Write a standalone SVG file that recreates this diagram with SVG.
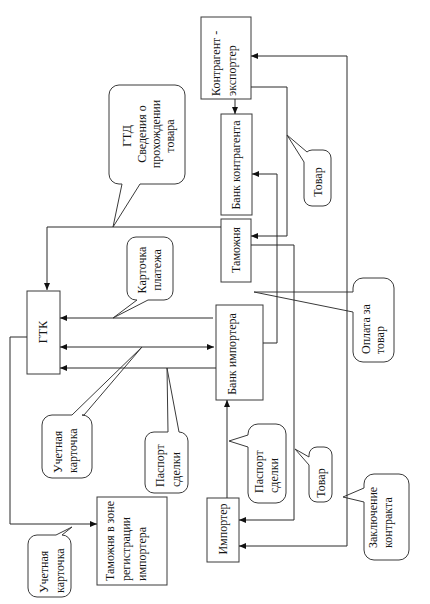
<svg xmlns="http://www.w3.org/2000/svg" width="430" height="604" viewBox="0 0 430 604">
<style>
.box{fill:#fff;stroke:#3a3a3a;stroke-width:1}
.bub{fill:#fff;stroke:#3a3a3a;stroke-width:1;stroke-linejoin:round}
.ln{fill:none;stroke:#2a2a2a;stroke-width:1}
.t{font-family:"Liberation Serif","Times New Roman",serif;font-size:12px;fill:#151515;dominant-baseline:central}
</style>
<defs>
<marker id="ah" markerUnits="userSpaceOnUse" markerWidth="8" markerHeight="6" refX="7" refY="3" orient="auto-start-reverse">
<path d="M0,0 L7,3 L0,6 Z" fill="#111"/>
</marker>
</defs>
<rect width="430" height="604" fill="#fff"/>

<g id="nodes">
<g id="exporter">
<rect class="box" x="201" y="17" width="50" height="82"/>
<text class="t" transform="translate(216,96) rotate(-90)">Контрагент -</text>
<text class="t" transform="translate(232,96) rotate(-90)">экспортер</text>
</g>
<g id="bank-contragent">
<rect class="box" x="221" y="114" width="31" height="101"/>
<text class="t" text-anchor="middle" transform="translate(236,165) rotate(-90)">Банк контрагента</text>
</g>
<g id="customs">
<rect class="box" x="221" y="219" width="30" height="63"/>
<text class="t" text-anchor="middle" transform="translate(236,250) rotate(-90)">Таможня</text>
</g>
<g id="bank-importer">
<rect class="box" x="216" y="305" width="47" height="95"/>
<text class="t" text-anchor="middle" transform="translate(232,354) rotate(-90)">Банк импортера</text>
</g>
<g id="importer">
<rect class="box" x="207" y="498" width="32" height="64"/>
<text class="t" text-anchor="middle" transform="translate(223,529) rotate(-90)">Импортер</text>
</g>
<g id="gtk">
<rect class="box" x="27" y="291" width="33" height="83"/>
<text class="t" text-anchor="middle" transform="translate(43,332) rotate(-90)">ГТК</text>
</g>
<g id="customs-reg">
<rect class="box" x="97" y="497" width="70" height="88"/>
<text class="t" transform="translate(110,581) rotate(-90)">Таможня в зоне</text>
<text class="t" transform="translate(126,581) rotate(-90)">регистрации</text>
<text class="t" transform="translate(142,581) rotate(-90)">импортера</text>
</g>

<g id="callout-gtd">
<path class="bub" d="M119,85 H175 A10,10 0 0 1 185,95 V174 A10,10 0 0 1 175,184 H140 L113,227 L122,184 H119 A10,10 0 0 1 109,174 V95 A10,10 0 0 1 119,85 Z"/>
<text class="t" text-anchor="middle" transform="translate(127,136) rotate(-90)">ГТД</text>
<text class="t" text-anchor="middle" transform="translate(141.5,134) rotate(-90)">Сведения о</text>
<text class="t" text-anchor="middle" transform="translate(155.5,134) rotate(-90)">прохождении</text>
<text class="t" text-anchor="middle" transform="translate(169.5,136) rotate(-90)">товара</text>
</g>
<g id="callout-payment-card">
<path class="bub" d="M136,237 H164 A9,9 0 0 1 173,246 V291 A9,9 0 0 1 164,300 H148 L113,318 L137,300 H136 A9,9 0 0 1 127,291 V246 A9,9 0 0 1 136,237 Z"/>
<text class="t" text-anchor="middle" transform="translate(142,270) rotate(-90)">Карточка</text>
<text class="t" text-anchor="middle" transform="translate(157,270) rotate(-90)">платежа</text>
</g>
<g id="callout-account-card-1">
<path class="bub" d="M52,415 H72 L142,347 L84,415 H82 A10,10 0 0 1 92,425 V468 A10,10 0 0 1 82,478 H52 A10,10 0 0 1 42,468 V425 A10,10 0 0 1 52,415 Z"/>
<text class="t" transform="translate(58,473) rotate(-90)">Учетная</text>
<text class="t" transform="translate(73,473) rotate(-90)">карточка</text>
</g>
<g id="callout-passport-1">
<path class="bub" d="M154,432 H168 L167,368 L179,432 A9,9 0 0 1 188,441 V484 A9,9 0 0 1 179,493 H154 A9,9 0 0 1 145,484 V441 A9,9 0 0 1 154,432 Z"/>
<text class="t" transform="translate(160,487) rotate(-90)">Паспорт</text>
<text class="t" transform="translate(176,487) rotate(-90)">сделки</text>
</g>
<g id="callout-account-card-2">
<path class="bub" d="M37,535 H56 L72,527 L62,535 A9,9 0 0 1 71,544 V588 A9,9 0 0 1 62,597 H37 A9,9 0 0 1 28,588 V544 A9,9 0 0 1 37,535 Z"/>
<text class="t" transform="translate(44,593) rotate(-90)">Учетная</text>
<text class="t" transform="translate(60,593) rotate(-90)">карточка</text>
</g>
<g id="callout-goods-1">
<path class="bub" d="M312,150 H323 A8,8 0 0 1 331,158 V198 A8,8 0 0 1 323,206 H312 A8,8 0 0 1 304,198 V162 L287,135 L307,152 Q308.5,150.3 312,150 Z"/>
<text class="t" text-anchor="middle" transform="translate(318,182) rotate(-90)">Товар</text>
</g>
<g id="callout-goods-2">
<path class="bub" d="M317,447 H324 A8,8 0 0 1 332,455 V494 A8,8 0 0 1 324,502 H317 A8,8 0 0 1 309,494 V465 L295,449 L309,457 V455 A8,8 0 0 1 317,447 Z"/>
<text class="t" text-anchor="middle" transform="translate(321,483) rotate(-90)">Товар</text>
</g>
<g id="callout-passport-2">
<path class="bub" d="M258,424 H276 A10,10 0 0 1 286,434 V493 A10,10 0 0 1 276,503 H258 A10,10 0 0 1 248,493 V447 L229,441 L248,435 V434 A10,10 0 0 1 258,424 Z"/>
<text class="t" transform="translate(259,493) rotate(-90)">Паспорт</text>
<text class="t" transform="translate(274,493) rotate(-90)">сделки</text>
</g>
<g id="callout-payment">
<path class="bub" d="M363,278 H384 A10,10 0 0 1 394,288 V352 A10,10 0 0 1 384,362 H363 A10,10 0 0 1 353,352 V312 L254,292 L353,292 V288 A10,10 0 0 1 363,278 Z"/>
<text class="t" transform="translate(366,354) rotate(-90)">Оплата за</text>
<text class="t" transform="translate(380,354) rotate(-90)">товар</text>
</g>
<g id="callout-contract">
<path class="bub" d="M374,474 H399 A10,10 0 0 1 409,484 V550 A10,10 0 0 1 399,560 H374 A10,10 0 0 1 364,550 V502 L343,497 L364,488 V484 A10,10 0 0 1 374,474 Z"/>
<text class="t" transform="translate(373,548) rotate(-90)">Заключение</text>
<text class="t" transform="translate(388,548) rotate(-90)">контракта</text>
</g>
</g>

<g id="connectors">
<path class="ln" d="M221,227 H47 V290" marker-end="url(#ah)"/>
<path class="ln" d="M213,318 H60" marker-end="url(#ah)"/>
<path class="ln" d="M60,347 H214" marker-start="url(#ah)" marker-end="url(#ah)"/>
<path class="ln" d="M216,368 H60" marker-end="url(#ah)"/>
<path class="ln" d="M27,337 H10 V524 H97" marker-end="url(#ah)"/>
<path class="ln" d="M235,99 V114" marker-end="url(#ah)"/>
<path class="ln" d="M251,87 H287 V236 H251" marker-end="url(#ah)"/>
<path class="ln" d="M251,245 H294 V520 H239" marker-end="url(#ah)"/>
<path class="ln" d="M263,343 H277 V174 H252" marker-end="url(#ah)"/>
<path class="ln" d="M239,546 H347 V56 H251" marker-start="url(#ah)" marker-end="url(#ah)"/>
<path class="ln" d="M227,498 V400" marker-end="url(#ah)"/>
</g>
</svg>
